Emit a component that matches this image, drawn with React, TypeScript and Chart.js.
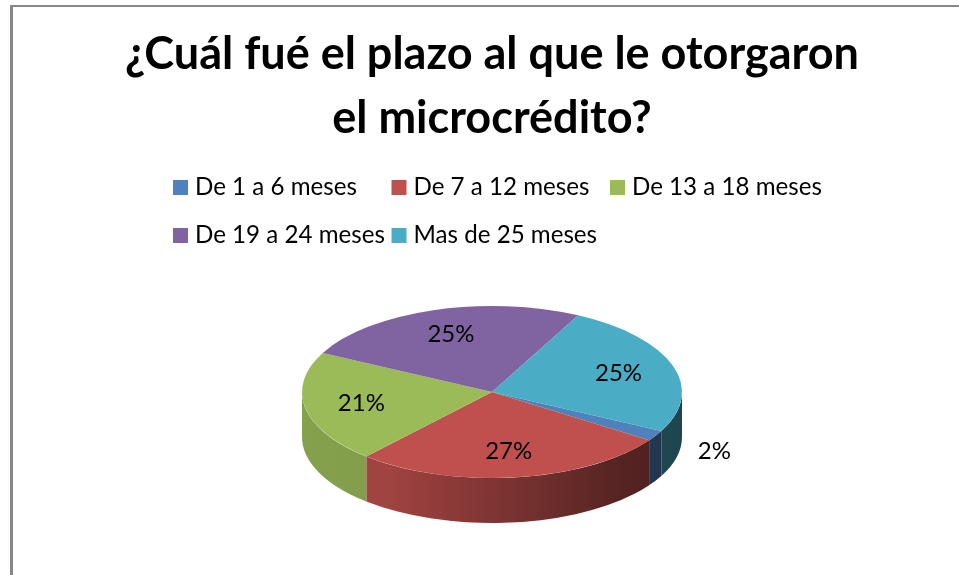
import React, { useEffect, useRef } from "react";
import { Chart, registerables } from "chart.js";

Chart.register(...registerables);

// ---- data ----
const TITLE_LINES = ["¿Cuál fué el plazo al que le otorgaron", "el microcrédito?"];
const CATEGORIES = [
  "De 1 a 6 meses",
  "De 7 a 12 meses",
  "De 13 a 18 meses",
  "De 19 a 24 meses",
  "Mas de 25 meses",
];
const SHARES = [2, 27, 21, 25, 25];
const COLORS = ["#4F81BD", "#C0504D", "#9BBB59", "#8064A2", "#4BACC6"];

const FONT = "Lato, 'Open Sans', 'DejaVu Sans', sans-serif";

function fitSize(text: string, weight: string, target: number): number {
  const c = document.createElement("canvas").getContext("2d")!;
  c.font = `${weight} 100px ${FONT}`;
  return (100 * target) / c.measureText(text).width;
}

function hexToRgb(h: string): [number, number, number] {
  const n = parseInt(h.slice(1), 16);
  return [(n >> 16) & 255, (n >> 8) & 255, n & 255];
}
function shade(h: string, k: number): string {
  const [r, g, b] = hexToRgb(h);
  return `rgb(${Math.round(r * k)},${Math.round(g * k)},${Math.round(b * k)})`;
}

const pie3d = {
  id: "pie3d",
  beforeDatasetsDraw(chart: any, _args: any, opts: any) {
    const meta = chart.getDatasetMeta(0);
    const arcs = meta.data;
    if (!arcs.length) return;
    const { x, y, outerRadius } = arcs[0].getProps(["x", "y", "outerRadius"], true);
    const sx = opts.rx / outerRadius;
    const sy = opts.ry / outerRadius;
    const rx = opts.rx,
      ry = opts.ry,
      d = opts.depth;
    const ctx = chart.ctx as CanvasRenderingContext2D;
    const colors = chart.data.datasets[0].backgroundColor as string[];
    ctx.save();
    arcs.forEach((arc: any, i: number) => {
      const { startAngle, endAngle } = arc.getProps(["startAngle", "endAngle"], true);
      for (let n = -1; n <= 2; n++) {
        const lo = Math.max(startAngle - 2 * Math.PI * n, 0);
        const hi = Math.min(endAngle - 2 * Math.PI * n, Math.PI);
        if (hi <= lo) continue;
        const g = ctx.createLinearGradient(x - rx, 0, x + rx, 0);
        const base = colors[i];
        g.addColorStop(0, shade(base, 0.86));
        g.addColorStop(0.22, shade(base, 0.84));
        g.addColorStop(0.5, shade(base, 0.66));
        g.addColorStop(0.85, shade(base, 0.44));
        g.addColorStop(1, shade(base, 0.4));
        ctx.fillStyle = g;
        ctx.beginPath();
        ctx.ellipse(x, y, rx, ry, 0, lo, hi, false);
        ctx.ellipse(x, y + d, rx, ry, 0, hi, lo, true);
        ctx.closePath();
        ctx.fill();
      }
    });
    ctx.restore();
    ctx.save();
    ctx.translate(x, y);
    ctx.scale(sx, sy);
    ctx.translate(-x, -y);
  },
  afterDatasetsDraw(chart: any, _args: any, opts: any) {
    const ctx = chart.ctx as CanvasRenderingContext2D;
    ctx.restore();
    const meta = chart.getDatasetMeta(0);
    const arcs = meta.data;
    if (!arcs.length) return;
    const values = chart.data.datasets[0].data as number[];
    const total = values.reduce((a, b) => a + b, 0);
    ctx.save();
    ctx.font = `${opts.labelSize}px ${FONT}`;
    ctx.fillStyle = "#000";
    ctx.textAlign = "center";
    ctx.textBaseline = "middle";
    arcs.forEach((arc: any, i: number) => {
      const { x, y, startAngle, endAngle } = arc.getProps(["x", "y", "startAngle", "endAngle"], true);
      const mid = (startAngle + endAngle) / 2;
      const pct = Math.round((values[i] / total) * 100);
      const f = pct < 5 ? 1.36 : 0.7;
      const px = x + Math.cos(mid) * opts.rx * f;
      const py = y + Math.sin(mid) * opts.ry * f;
      ctx.fillText(`${pct}%`, px, py);
    });
    ctx.restore();
  },
};

const gridLegend = {
  id: "gridLegend",
  afterDraw(chart: any, _args: any, opts: any) {
    const ctx = chart.ctx as CanvasRenderingContext2D;
    const labels = chart.data.labels as string[];
    const colors = chart.data.datasets[0].backgroundColor as string[];
    ctx.save();
    ctx.font = `${opts.size}px ${FONT}`;
    ctx.textAlign = "left";
    ctx.textBaseline = "alphabetic";
    labels.forEach((lab, i) => {
      const col = i % opts.cols;
      const row = Math.floor(i / opts.cols);
      const bx = opts.left + col * opts.colWidth;
      const base = opts.firstBaseline + row * opts.rowStep;
      ctx.fillStyle = colors[i];
      ctx.fillRect(bx, base - opts.box, opts.box, opts.box);
      ctx.fillStyle = "#000";
      ctx.fillText(lab, bx + opts.textGap, base);
    });
    ctx.restore();
  },
};

export default function App() {
  const ref = useRef<HTMLCanvasElement>(null);
  useEffect(() => {
    if (!ref.current) return;
    const titleSize = fitSize(TITLE_LINES[0], "bold", 734);
    const legendSize = fitSize(CATEGORIES[0], "normal", 162);
    const labelSize = fitSize("27%", "normal", 47);
    const lineH = 64;
    const padTop = 72 - 0.387 * titleSize - lineH / 2;
    const padBottom = 264 - (padTop + 2 * lineH);
    const chart = new Chart(ref.current, {
      type: "pie",
      data: {
        labels: CATEGORIES,
        datasets: [
          {
            data: SHARES,
            backgroundColor: COLORS,
            borderWidth: 0,
            clip: false as any,
          },
        ],
      },
      options: {
        responsive: false,
        animation: false,
        events: [],
        rotation: 117,
        layout: { padding: { top: 0, bottom: 55, left: 0, right: 0 } },
        plugins: {
          legend: { display: false },
          tooltip: { enabled: false },
          title: {
            display: true,
            text: TITLE_LINES,
            color: "#000",
            font: { family: FONT, size: titleSize, weight: "bold", lineHeight: lineH / titleSize },
            padding: { top: padTop, bottom: padBottom },
          },
          pie3d: { rx: 190, ry: 86, depth: 45, labelSize },
          gridLegend: {
            size: legendSize,
            cols: 3,
            left: 160,
            colWidth: 218.5,
            firstBaseline: 195,
            rowStep: 48,
            box: 15,
            textGap: 22,
          },
        } as any,
      },
      plugins: [pie3d, gridLegend],
    });
    return () => chart.destroy();
  }, []);

  return (
    <div
      style={{
        position: "absolute",
        left: 0,
        top: 0,
        width: 959,
        height: 575,
        overflow: "hidden",
        background: "#fff",
      }}
    >
      <div
        style={{
          position: "absolute",
          left: 10,
          top: 5,
          width: 1000,
          height: 700,
          borderLeft: "3px solid #888888",
          borderTop: "2px solid #888888",
        }}
      />
      <canvas
        ref={ref}
        width={958}
        height={575}
        style={{ position: "absolute", left: 13, top: 0, width: 958, height: 575 }}
      />
    </div>
  );
}
